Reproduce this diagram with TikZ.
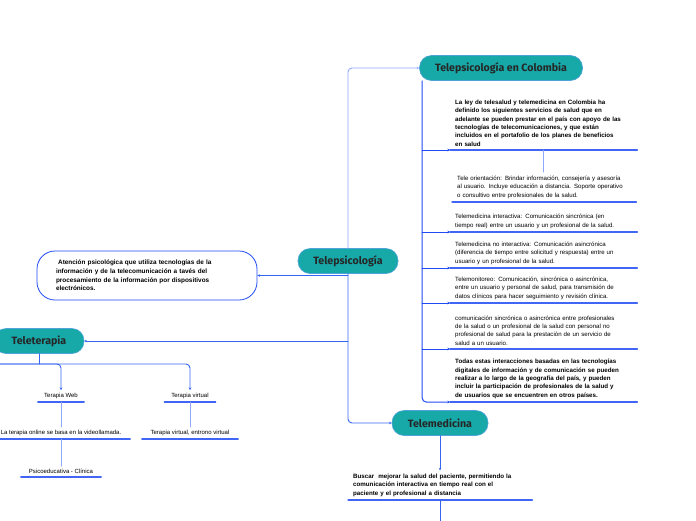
\documentclass[tikz,border=0pt]{standalone}
\usepackage{fontspec}
\setmainfont{Liberation Sans}
\newfontfamily\topicfont{Fira Sans}
\usetikzlibrary{positioning,arrows.meta}

\definecolor{topicteal}{HTML}{17A8A8}
\definecolor{topicedge}{HTML}{4FA3D9}
\definecolor{trunkblue}{HTML}{1F4BF5}
\definecolor{linkblue}{HTML}{3566F2}
\definecolor{paleblue}{HTML}{8FA9FF}

\tikzset{
  topic/.style={fill=topicteal, draw=topicedge, line width=0.6pt, rounded corners=12pt,
    minimum height=25pt, inner xsep=10pt, text=black!85,
    font=\topicfont\bfseries\fontsize{10.6}{12}\selectfont},
  item/.style={anchor=south west, align=left, inner xsep=5pt, inner ysep=3.5pt,
    text width=177pt, font=\fontsize{6.1}{8.4}\selectfont},
  leaf/.style={anchor=south, align=center, inner xsep=2pt, inner ysep=3pt,
    font=\fontsize{6}{7}\selectfont},
  link/.style={draw=linkblue, line width=0.9pt, rounded corners=4pt},
  trunk/.style={draw=trunkblue, line width=1pt, rounded corners=4pt},
  pale/.style={draw=paleblue, line width=0.9pt, rounded corners=4pt},
  uline/.style={draw=trunkblue!85, line width=1.2pt}
}

\begin{document}
\begin{tikzpicture}[x=1pt, y=-1pt, line join=round, line cap=round,
  >={Stealth[length=2.6pt,width=2.6pt]}]
\useasboundingbox (0,0) rectangle (696,520);

% main topics
\node[topic, minimum width=100pt] (psico) at (348,261) {Telepsicología};
\node[topic, minimum width=163pt] (col) at (501,68) {Telepsicología en Colombia};
\node[topic, minimum width=96pt] (med) at (440,423) {Telemedicina};
\node[topic, minimum width=90pt] (tera) at (39,341) {Teleterapia};
\node[draw=trunkblue, line width=0.8pt, rounded corners=18pt, minimum width=220pt, minimum height=49pt,
  inner xsep=19pt, text width=182pt, align=left, font=\fontsize{6.4}{8.7}\selectfont\bfseries]
  (desc) at (147,275.5) {\ Atención psicológica que utiliza tecnologías de la\\
  información y de la telecomunicación a tavés del\\
  procesamiento de la información por dispositivos\\ electrónicos.};

% Colombia branch
\node[item, font=\fontsize{6.2}{8.4}\selectfont\bfseries] (ley) at (450,150)
  {La ley de telesalud y telemedicina en Colombia ha\\ definido los siguientes servicios de salud que en\\
  adelante se pueden prestar en el país con apoyo de las\\ tecnologías de telecomunicaciones, y que están\\
  incluidos en el portafolio de los planes de beneficios\\ en salud};
\node[item, text width=174pt] (orient) at (452,202)
  {Tele orientación: Brindar información, consejería y asesoría\\ al usuario. Incluye educación a distancia. Soporte operativo\\
  o consultivo entre profesionales de la salud.};
\node[item] (inter) at (450,232)
  {Telemedicina interactiva: Comunicación sincrónica (en\\ tiempo real) entre un usuario y un profesional de la salud.};
\node[item] (nointer) at (450,268)
  {Telemedicina no interactiva: Comunicación asincrónica\\ (diferencia de tiempo entre solicitud y respuesta) entre un\\
  usuario y un profesional de la salud.};
\node[item] (monit) at (450,303)
  {Telemonitoreo: Comunicación, sincrónica o asincrónica,\\ entre un usuario y personal de salud, para transmisión de\\
  datos clínicos para hacer seguimiento y revisión clínica.};
\node[item] (prof) at (450,349)
  {comunicación sincrónica o asincrónica entre profesionales\\ de la salud o un profesional de la salud con personal no\\
  profesional de salud para la prestación de un servicio de\\ salud a un usuario.};
\node[item, font=\fontsize{6.2}{8.3}\selectfont\bfseries] (todas) at (450,402)
  {Todas estas interacciones basadas en las tecnologías\\ digitales de información y de comunicación se pueden\\
  realizar a lo largo de la geografía del país, y pueden\\ incluir la participación de profesionales de la salud y\\
  de usuarios que se encuentren en otros países.};

% Teleterapia branch
\node[leaf, minimum width=46pt] (web) at (61,402) {Terapia Web};
\node[leaf, minimum width=51pt] (virt) at (190,402) {Terapia virtual};
\node[leaf, minimum width=138pt] (video) at (61,439) {La terapia online se basa en la videollamada.};
\node[leaf, minimum width=96pt] (entorno) at (190,439) {Terapia virtual, entrono virtual};
\node[leaf, minimum width=80pt] (psicoed) at (61,477) {Psicoeducativa - Clínica};

% Telemedicina branch
\node[item, text width=174pt, font=\fontsize{6.2}{8.2}\selectfont\bfseries] (buscar) at (348,500)
  {Buscar\ \ mejorar la salud del paciente, permitiendo la\\ comunicación interactiva en tiempo real con el\\
  paciente y el profesional a distancia};

% underlines
\foreach \n in {ley,orient,inter,nointer,monit,prof,todas,web,virt,video,entorno,psicoed,buscar}
  \draw[uline] (\n.south west) -- (\n.south east);

% connectors from the central topic
\draw[pale,->] (psico.north) |- (col.west);
\draw[link,->] (psico.south) |- (med.west);
\draw[link,->] (psico.south |- desc.east) -- (desc.east);
\draw[link,->] (psico.south |- tera.east) -- (tera.east);

% Colombia trunk
\coordinate (top) at ([xshift=3pt]col.south west);
\draw[trunk,->] (top) |- (todas.south west);
\foreach \n in {ley,inter,nointer,monit,prof}
  \draw[trunk,->] (top |- \n.south west) -- (\n.south west);
\draw[pale] (ley.south) -- (ley.south |- orient.north);

% Teleterapia children
\coordinate (bus) at (tera.south |- 0,364);
\coordinate (offleft) at (-30,364);
\draw[link] (tera.south) -- (bus);
\draw[link,->] (offleft) -| (virt.north);
\draw[link,->] (offleft) -| (web.north);
\draw[pale] (web.south) -- (video.north);
\draw[pale] (video.south) -- (psicoed.north);
\draw[pale] (virt.south) -- (entorno.north);

% Telemedicina children
\coordinate (below) at (440,530);
\draw[link,->] (med.south) -- (med.south |- buscar.north);
\draw[link] (buscar.south -| med.south) -- (below);
\end{tikzpicture}
\end{document}
